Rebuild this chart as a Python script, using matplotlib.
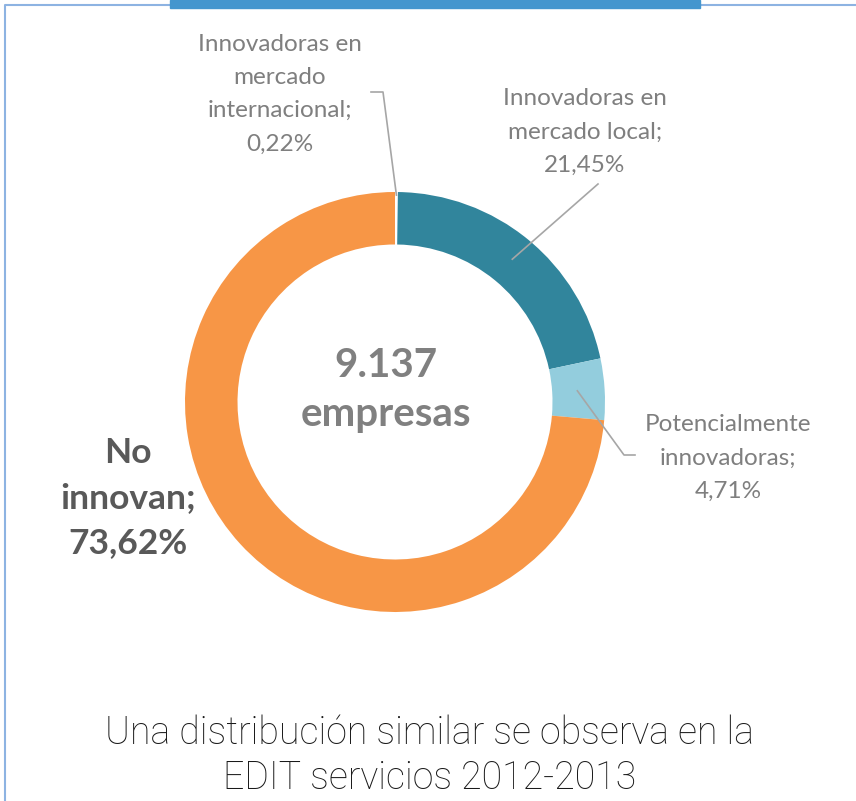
import numpy as np
import matplotlib.pyplot as plt
from matplotlib.patches import Rectangle

# datos
categorias = ["Innovadoras en\nmercado\ninternacional;", "Innovadoras en\nmercado local;",
              "Potencialmente\ninnovadoras;", "No\ninnovan;"]
porcentajes = [0.22, 21.45, 4.71, 73.62]
total_empresas = "9.137"
titulo = "Una distribución similar se observa en la\nEDIT servicios 2012-2013"

colores = ["#ffffff", "#31859c", "#93cddd", "#f79646"]

W, H = 856, 801
fig = plt.figure(figsize=(W / 100, H / 100), dpi=100)
ax = fig.add_axes([0, 0, 1, 1])

cx, cy, R = 395, H - 402, 210
anillo = 0.25

wedges, _ = ax.pie(porcentajes, colors=colores, startangle=90, counterclock=False,
                   radius=R, center=(cx, cy),
                   wedgeprops=dict(width=R * anillo, edgecolor="none"))
ax.set_xlim(0, W)
ax.set_ylim(0, H)
ax.set_aspect("auto")
ax.axis("off")

def fmt(v):
    return f"{v:.2f}".replace(".", ",") + "%"

gris = "#7f7f7f"
linea = "#a6a6a6"

# etiquetas con lineas guia
pos_texto = [(280, H - 94), (585, H - 132), (728, H - 458)]
codo = [(383, H - 92), (598, H - 184), (624, H - 455)]
cola = [(371, H - 92), None, (635, H - 455)]
radio_guia = [0.985, 0.88, 0.87]

for i in range(3):
    w = wedges[i]
    ang = np.deg2rad((w.theta1 + w.theta2) / 2)
    px = cx + R * radio_guia[i] * np.cos(ang)
    py = cy + R * radio_guia[i] * np.sin(ang)
    xs = [px, codo[i][0]]
    ys = [py, codo[i][1]]
    if cola[i] is not None:
        xs.append(cola[i][0])
        ys.append(cola[i][1])
    ax.plot(xs, ys, color=linea, lw=1.2)
    ax.text(pos_texto[i][0], pos_texto[i][1], categorias[i] + "\n" + fmt(porcentajes[i]),
            ha="center", va="center", fontsize=17.5, color=gris, family="Lato",
            linespacing=1.72)

ax.text(128, H - 498, categorias[3] + "\n" + fmt(porcentajes[3]), ha="center", va="center",
        fontsize=25.5, fontweight="bold", color="#595959", family="Lato", linespacing=1.5)

ax.text(386, H - 390, total_empresas + "\nempresas", ha="center", va="center",
        fontsize=29, fontweight="bold", color="#808080", family="Lato", linespacing=1.39)

ax.text(430, H - 756, titulo, ha="center", va="center", fontsize=27,
        color="#1a1a1a", family="Roboto", fontweight="light", linespacing=1.24)

# marco
ax.plot([5, 5, W], [0, H - 5, H - 5], color="#8db3e2", lw=1.5, clip_on=False)
ax.add_patch(Rectangle((170, H - 8), 530, 8, color="#4596ce", zorder=5))

plt.savefig("out.png", dpi=100)
plt.close()
